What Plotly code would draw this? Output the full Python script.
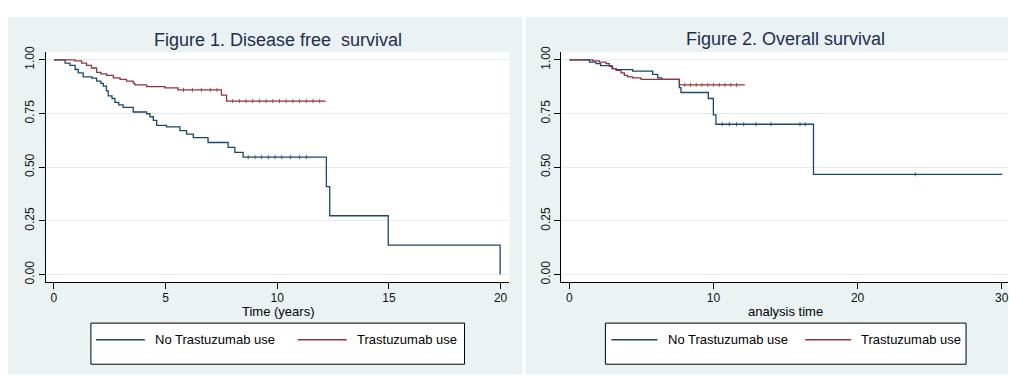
import plotly.graph_objects as go

# ---- Disease free survival (Kaplan-Meier step data) ----
dfs_no_t = [0, 0.5, 0.72, 0.95, 1.09, 1.31, 1.7, 1.91, 2.1, 2.21, 2.35, 2.43, 2.6, 2.73, 2.9,
            3.10, 3.55, 4.15, 4.3, 4.45, 4.6, 5.04, 5.64, 5.94, 6.24, 6.9, 7.8, 8.1, 8.47,
            12.2, 12.35, 14.97, 19.98]
dfs_no_s = [1.0, 0.985, 0.974, 0.955, 0.939, 0.921, 0.915, 0.901, 0.89, 0.878, 0.855, 0.832,
            0.82, 0.802, 0.79, 0.779, 0.757, 0.749, 0.735, 0.718, 0.695, 0.688, 0.670, 0.654,
            0.638, 0.615, 0.592, 0.569, 0.547, 0.410, 0.274, 0.137, 0.0]
dfs_tr_t = [0, 0.94, 1.24, 1.46, 1.68, 1.91, 2.1, 2.36, 2.66, 2.96, 3.25, 3.55, 3.62, 4.15,
            4.97, 5.56, 7.5, 7.73, 12.17]
dfs_tr_s = [1.0, 0.995, 0.985, 0.974, 0.962, 0.942, 0.935, 0.928, 0.916, 0.909, 0.901, 0.892,
            0.883, 0.875, 0.869, 0.860, 0.836, 0.808, 0.808]

# censored observations (time, survival at that time)
dfs_no_cens_t = [8.7, 9.0, 9.3, 9.6, 9.9, 10.2, 10.6, 11.0, 11.3]
dfs_no_cens_s = [0.547] * 9
dfs_tr_cens_t = [5.8, 6.2, 6.6, 7.0, 7.3, 8.0, 8.3, 8.6, 8.9, 9.2, 9.5, 9.8, 10.1, 10.4, 10.7,
                 11.0, 11.3, 11.6, 11.9]
dfs_tr_cens_s = [0.860] * 5 + [0.808] * 14

# ---- Overall survival ----
os_no_t = [0, 1.39, 1.85, 2.16, 2.95, 3.24, 4.39, 5.78, 6.13, 6.4, 7.63, 7.74, 9.64, 9.99,
           10.17, 16.94, 30.05]
os_no_s = [1.0, 0.989, 0.982, 0.973, 0.959, 0.954, 0.947, 0.932, 0.916, 0.909, 0.871, 0.848,
           0.82, 0.744, 0.70, 0.467, 0.467]
os_tr_t = [0, 1.62, 2.08, 2.54, 2.77, 3.0, 3.24, 3.58, 3.81, 4.04, 4.39, 4.97, 7.63, 12.18]
os_tr_s = [1.0, 0.995, 0.989, 0.982, 0.970, 0.959, 0.951, 0.939, 0.928, 0.921, 0.916, 0.909,
           0.883, 0.883]

os_no_cens_t = [10.6, 11.1, 11.6, 12.1, 12.95, 13.99, 16.0, 16.37, 24.0]
os_no_cens_s = [0.70] * 8 + [0.467]
os_tr_cens_t = [8.0, 8.4, 8.8, 9.2, 9.6, 10.0, 10.4, 10.8, 11.2, 11.6]
os_tr_cens_s = [0.883] * 10

y_ticks = [0, 0.25, 0.5, 0.75, 1.0]
y_tick_text = ["0.00", "0.25", "0.50", "0.75", "1.00"]
series_names = ["No Trastuzumab use", "Trastuzumab use"]

NAVY = "#1A476F"
MAROON = "#90353B"
PANEL = "#EAF2F3"
GRID = "#E3ECEF"
TITLE = "#1F2D4E"
FONT = "Liberation Sans, Arial, sans-serif"

W, H = 1009, 376


def px(x):
    return x / W


def py(y):
    return 1 - y / H


fig = go.Figure()


def km(t, s, color, xa, ya, name):
    fig.add_trace(go.Scatter(x=t, y=s, mode="lines", line=dict(color=color, width=1.3, shape="hv"),
                             xaxis=xa, yaxis=ya, name=name, showlegend=False, hoverinfo="skip"))


def cens(t, s, color, xa, ya):
    fig.add_trace(go.Scatter(x=t, y=s, mode="markers",
                             marker=dict(symbol="line-ns", size=3, line=dict(color=color, width=0.8)),
                             xaxis=xa, yaxis=ya, showlegend=False, hoverinfo="skip"))


km(dfs_no_t, dfs_no_s, NAVY, "x", "y", series_names[0])
km(dfs_tr_t, dfs_tr_s, MAROON, "x", "y", series_names[1])
cens(dfs_no_cens_t, dfs_no_cens_s, NAVY, "x", "y")
cens(dfs_tr_cens_t, dfs_tr_cens_s, MAROON, "x", "y")

km(os_no_t, os_no_s, NAVY, "x2", "y2", series_names[0])
km(os_tr_t, os_tr_s, MAROON, "x2", "y2", series_names[1])
cens(os_no_cens_t, os_no_cens_s, NAVY, "x2", "y2")
cens(os_tr_cens_t, os_tr_cens_s, MAROON, "x2", "y2")

axis_font = dict(family=FONT, size=12, color="#111111")
common_x = dict(showline=True, linecolor="#000000", linewidth=1, ticks="outside", ticklen=6,
                tickcolor="#000000", tickfont=axis_font, showgrid=False, zeroline=False,
                ticklabeloverflow="allow", ticklabelstandoff=-1)
common_y = dict(showline=True, linecolor="#000000", linewidth=1, ticks="outside", ticklen=6,
                tickcolor="#000000", tickfont=axis_font, showgrid=True, gridcolor=GRID,
                gridwidth=1, zeroline=False, tickvals=y_ticks, ticktext=y_tick_text,
                tickangle=-90, range=[-0.0346, 1.0365])

fig.update_layout(
    width=W, height=H,
    margin=dict(l=0, r=0, t=0, b=0),
    paper_bgcolor="#FFFFFF",
    plot_bgcolor="rgba(0,0,0,0)",
    xaxis=dict(domain=[px(46), px(510)], range=[-0.358, 20.40], tickvals=[0, 5, 10, 15, 20],
               anchor="y", **common_x),
    yaxis=dict(domain=[py(282), py(47)], anchor="x", **common_y),
    xaxis2=dict(domain=[px(562), 1.0], range=[-0.555, 30.44], tickvals=[0, 10, 20, 30],
                anchor="y2", **common_x),
    yaxis2=dict(domain=[py(282), py(47)], anchor="x2", **common_y),
)

shapes = []
# panel backgrounds and white plot regions
for x0, x1, plot_x0, plot_x1 in [(8, 523, 46, 510), (526, W, 562, W)]:
    shapes.append(dict(type="rect", xref="paper", yref="paper", x0=px(x0), x1=px(x1),
                       y0=py(H), y1=py(11), fillcolor=PANEL, line=dict(width=0), layer="below"))
    shapes.append(dict(type="rect", xref="paper", yref="paper", x0=px(plot_x0), x1=px(plot_x1),
                       y0=py(282), y1=py(47), fillcolor="#FFFFFF", line=dict(width=0),
                       layer="below"))

annotations = []
# legends
legends = [
    dict(box=(91, 465), items=[(96, 145, 153, NAVY), (298, 347, 355, MAROON)]),
    dict(box=(606, 967), items=[(612, 658, 667, NAVY), (806, 852, 860, MAROON)]),
]
for lg in legends:
    bx0, bx1 = lg["box"]
    shapes.append(dict(type="rect", xref="paper", yref="paper", x0=px(bx0), x1=px(bx1),
                       y0=py(366), y1=py(324), fillcolor="#FFFFFF",
                       line=dict(color="#000000", width=1), layer="above"))
    for (l0, l1, tx, col), name in zip(lg["items"], series_names):
        shapes.append(dict(type="line", xref="paper", yref="paper", x0=px(l0), x1=px(l1),
                           y0=py(341), y1=py(341), line=dict(color=col, width=1.3),
                           layer="above"))
        annotations.append(dict(text=name, xref="paper", yref="paper", x=px(tx), y=py(341),
                                xanchor="left", yanchor="middle", showarrow=False,
                                font=dict(family=FONT, size=13, color="#000000")))

# titles
annotations.append(dict(text="Figure 1. Disease free\u00a0 survival", xref="paper", yref="paper",
                        x=px(278), y=py(35), xanchor="center", yanchor="middle", showarrow=False,
                        font=dict(family=FONT, size=18, color=TITLE)))
annotations.append(dict(text="Figure 2. Overall survival", xref="paper", yref="paper",
                        x=px(786.5), y=py(34), xanchor="center", yanchor="middle",
                        showarrow=False, font=dict(family=FONT, size=18, color=TITLE)))
# axis titles
annotations.append(dict(text="Time (years)", xref="paper", yref="paper", x=px(278), y=py(312),
                        xanchor="center", yanchor="middle", showarrow=False,
                        font=dict(family=FONT, size=13, color="#000000")))
annotations.append(dict(text="analysis time", xref="paper", yref="paper", x=px(786.7),
                        y=py(312), xanchor="center", yanchor="middle", showarrow=False,
                        font=dict(family=FONT, size=13, color="#000000")))

fig.update_layout(shapes=shapes, annotations=annotations)

fig.write_html("out.html")
